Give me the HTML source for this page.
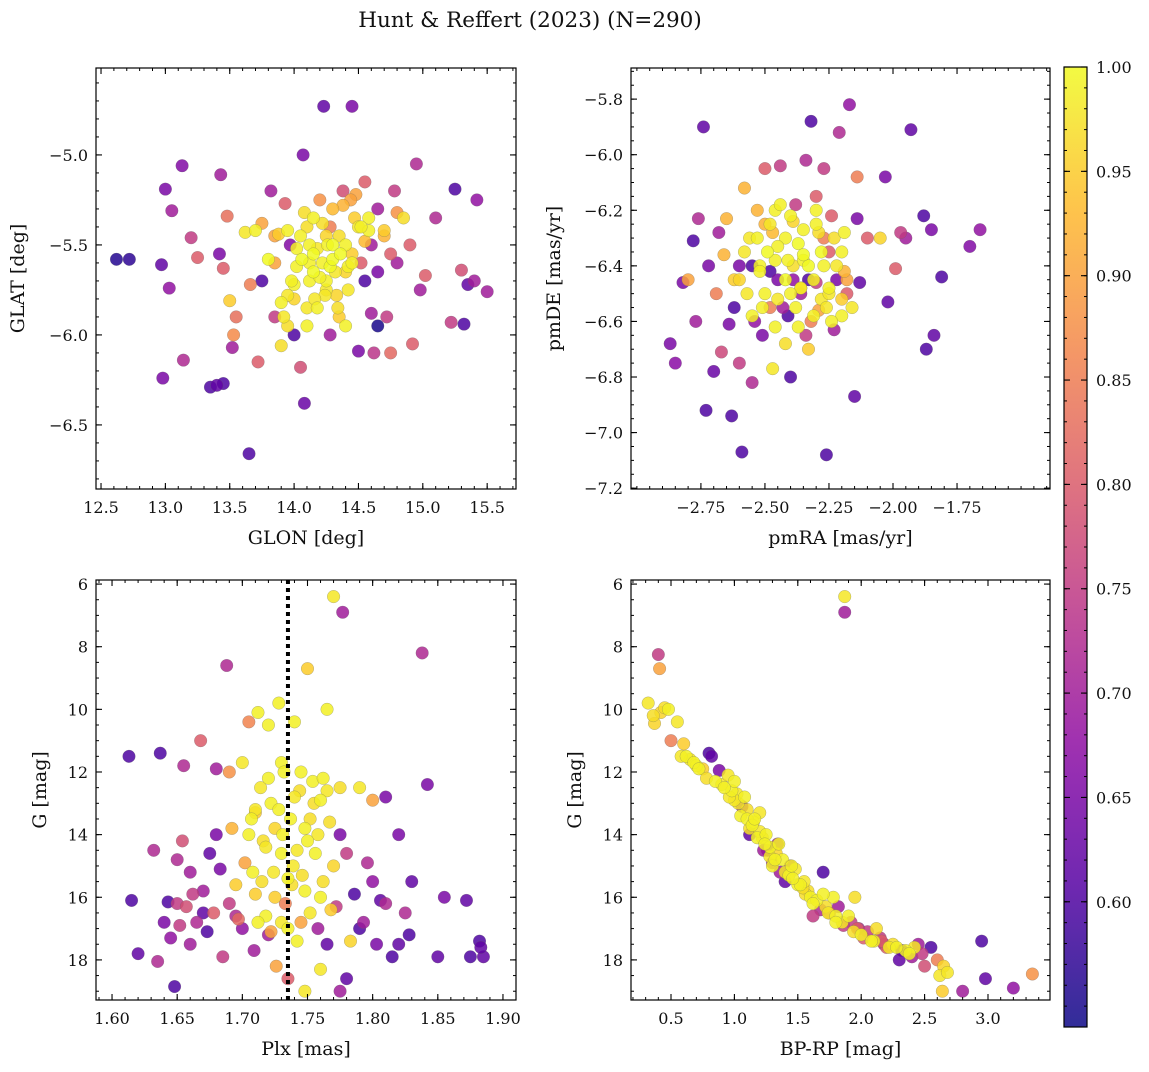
<!DOCTYPE html>
<html><head><meta charset="utf-8">
<style>
body{margin:0;background:#fff;}
svg text{font-family:"DejaVu Serif","Liberation Serif",serif;fill:#111;}
</style></head>
<body>
<svg id="chart" width="1149" height="1067" viewBox="0 0 1149 1067" xmlns="http://www.w3.org/2000/svg">
<text x="530" y="27" font-size="21.5" text-anchor="middle">Hunt &amp; Reffert (2023) (N=290)</text>
</svg>
<script>
// ---- data ----
const glon=[12.62,12.72,13.0,12.97,12.98,13.03,13.05,13.13,13.14,13.2,13.25,13.35,13.4,13.45,13.43,13.42,13.45,13.48,13.5,13.52,13.55,13.53,13.62,13.65,13.66,13.7,13.72,13.75,13.8,13.82,13.85,13.88,13.9,13.93,13.95,13.97,14.0,14.02,14.05,14.07,14.08,14.1,14.12,14.15,14.18,14.2,14.22,14.23,14.25,14.28,14.3,14.32,14.35,14.38,14.4,14.42,14.45,14.47,14.5,14.52,14.55,14.58,14.6,14.62,14.65,14.7,14.72,14.75,14.78,14.8,14.85,14.9,14.95,14.92,14.98,15.02,15.1,15.22,15.25,15.3,15.32,15.35,15.42,15.4,15.5,14.3,14.15,14.0,14.35,13.95,14.25,14.45,14.1,13.85,14.55,14.65,13.75,14.4,14.28,14.12];
const glat=[-5.58,-5.58,-5.19,-5.61,-6.24,-5.74,-5.31,-5.06,-6.14,-5.46,-5.57,-6.29,-6.28,-6.27,-5.11,-5.55,-5.63,-5.34,-5.81,-6.07,-5.9,-6.0,-5.43,-6.66,-5.72,-5.42,-6.15,-5.38,-5.58,-5.2,-5.9,-5.44,-6.06,-5.27,-5.78,-5.5,-6.0,-5.62,-6.18,-5.0,-6.38,-5.4,-5.7,-5.55,-5.85,-5.25,-5.6,-4.73,-5.45,-6.0,-5.3,-5.65,-5.9,-5.2,-5.5,-5.75,-4.73,-5.35,-6.09,-5.6,-5.15,-5.42,-5.88,-6.1,-5.3,-5.45,-5.9,-6.1,-5.2,-5.6,-5.35,-5.5,-5.05,-6.05,-5.75,-5.67,-5.35,-5.93,-5.19,-5.64,-5.94,-5.72,-5.25,-5.7,-5.76,-5.5,-5.35,-5.8,-5.45,-5.42,-5.75,-5.55,-5.95,-5.6,-5.7,-5.95,-5.7,-5.95,-5.62,-5.5];
const prob1=[0.56,0.57,0.65,0.62,0.65,0.68,0.7,0.66,0.72,0.75,0.8,0.6,0.62,0.6,0.7,0.65,0.8,0.83,0.95,0.7,0.83,0.87,0.98,0.6,0.85,0.99,0.8,0.9,1.0,0.7,0.75,0.95,0.97,0.8,0.98,0.66,0.6,0.99,0.78,0.65,0.63,0.97,0.99,1.0,0.99,0.88,0.99,0.62,0.96,0.7,0.93,0.98,0.95,0.78,0.99,0.98,0.65,0.95,0.65,0.8,0.8,0.99,0.7,0.74,0.7,0.92,0.75,0.82,0.75,0.7,0.97,0.8,0.72,0.8,0.7,0.8,0.72,0.75,0.6,0.78,0.6,0.62,0.68,0.7,0.7,1.0,0.99,0.96,0.97,0.99,0.98,0.95,0.99,0.9,0.6,0.55,0.6,0.99,1.0,0.99];
const glonX=[14.05,14.18,14.22,14.3,14.38,14.42,14.5,14.6,14.7,14.8,13.9,13.95,14.0,14.1,14.15,14.25,14.33,14.45,14.55,14.65,13.85,13.92,14.02,14.08,14.2,14.28,14.36,14.48,14.58,14.75,14.12,14.24,14.34,14.44,13.98,14.06,14.16,14.26,14.4,14.52];
const glatX=[-5.45,-5.52,-5.38,-5.58,-5.28,-5.62,-5.4,-5.5,-5.42,-5.32,-5.82,-5.95,-5.72,-5.85,-5.65,-5.7,-5.78,-5.6,-5.48,-5.65,-5.45,-5.9,-5.52,-5.32,-5.68,-5.4,-5.55,-5.22,-5.35,-5.55,-5.6,-5.78,-5.85,-5.25,-5.7,-5.58,-5.8,-5.5,-5.65,-5.4];
const prob1X=[0.99,0.98,0.97,1.0,0.92,0.99,0.98,0.7,0.95,0.88,0.99,0.97,0.99,0.98,1.0,0.99,0.96,0.99,0.93,0.65,0.9,0.98,0.99,0.97,0.99,0.85,1.0,0.9,0.99,0.8,0.99,0.98,0.97,0.9,0.99,1.0,0.98,0.99,0.96,0.99];
const pmra=[-2.87,-2.85,-2.82,-2.8,-2.78,-2.77,-2.76,-2.74,-2.73,-2.72,-2.7,-2.69,-2.68,-2.67,-2.66,-2.65,-2.64,-2.63,-2.62,-2.6,-2.59,-2.58,-2.57,-2.56,-2.55,-2.54,-2.53,-2.52,-2.51,-2.5,-2.49,-2.48,-2.47,-2.46,-2.45,-2.44,-2.42,-2.41,-2.4,-2.39,-2.38,-2.37,-2.36,-2.35,-2.34,-2.33,-2.32,-2.31,-2.3,-2.29,-2.28,-2.27,-2.26,-2.25,-2.24,-2.23,-2.22,-2.21,-2.2,-2.19,-2.18,-2.17,-2.16,-2.15,-2.14,-2.14,-2.13,-2.1,-2.05,-2.03,-2.02,-1.99,-1.97,-1.95,-1.93,-1.88,-1.87,-1.85,-1.84,-1.81,-1.7,-1.66,-2.35,-2.42,-2.28,-2.45,-2.3,-2.5,-2.38,-2.2,-2.55,-2.62,-2.6,-2.33,-2.25,-2.48,-2.4];
const pmde=[-6.68,-6.75,-6.46,-6.45,-6.31,-6.6,-6.23,-5.9,-6.92,-6.4,-6.78,-6.5,-6.28,-6.71,-6.36,-6.23,-6.61,-6.94,-6.45,-6.75,-7.07,-6.12,-6.5,-6.3,-6.82,-6.6,-6.2,-6.4,-6.65,-6.05,-6.35,-6.55,-6.77,-6.2,-6.45,-6.04,-6.3,-6.58,-6.8,-6.4,-6.18,-6.62,-6.5,-6.27,-6.02,-6.7,-5.88,-6.45,-6.15,-6.56,-6.35,-6.05,-7.08,-6.48,-6.22,-6.63,-6.4,-5.92,-6.52,-6.28,-6.45,-5.82,-6.55,-6.87,-6.23,-6.08,-6.46,-6.3,-6.3,-6.08,-6.53,-6.41,-6.28,-6.3,-5.91,-6.22,-6.7,-6.27,-6.65,-6.44,-6.33,-6.27,-6.38,-6.45,-6.52,-6.33,-6.25,-6.5,-6.55,-6.58,-6.4,-6.55,-6.4,-6.45,-6.35,-6.25,-6.5];
const prob2=[0.65,0.67,0.65,0.9,0.6,0.7,0.72,0.62,0.6,0.65,0.63,0.85,0.7,0.77,0.92,0.92,0.65,0.6,0.95,0.75,0.6,0.92,0.98,0.98,0.72,0.68,0.92,0.99,0.65,0.8,1.0,0.85,0.98,0.99,0.65,0.75,0.99,0.6,0.6,0.97,0.75,0.99,0.7,0.99,0.72,0.95,0.6,0.99,0.8,0.9,1.0,0.75,0.6,0.99,0.8,0.7,0.98,0.72,0.95,0.99,0.9,0.68,0.98,0.62,0.65,0.85,0.62,0.8,0.96,0.65,0.62,0.8,0.75,0.7,0.62,0.6,0.6,0.65,0.62,0.6,0.66,0.68,0.99,1.0,0.98,0.99,0.99,0.99,0.99,0.99,0.6,0.6,0.65,0.6,0.8,0.98,0.99];
const pmraX=[-2.58,-2.52,-2.47,-2.43,-2.4,-2.36,-2.32,-2.27,-2.23,-2.18,-2.55,-2.5,-2.45,-2.41,-2.37,-2.34,-2.3,-2.26,-2.22,-2.2,-2.6,-2.53,-2.46,-2.39,-2.33,-2.29,-2.24,-2.19,-2.44,-2.36,-2.48,-2.31,-2.42,-2.27,-2.35,-2.51,-2.25,-2.39,-2.46,-2.3];
const pmdeX=[-6.35,-6.42,-6.28,-6.55,-6.22,-6.48,-6.6,-6.4,-6.3,-6.5,-6.58,-6.25,-6.52,-6.38,-6.32,-6.65,-6.2,-6.55,-6.45,-6.35,-6.45,-6.3,-6.62,-6.45,-6.4,-6.28,-6.6,-6.42,-6.18,-6.48,-6.42,-6.58,-6.68,-6.3,-6.36,-6.55,-6.5,-6.24,-6.38,-6.46];
const prob2X=[0.98,0.99,0.93,0.7,0.99,0.98,0.85,0.99,0.97,0.8,0.99,0.92,0.98,0.99,1.0,0.75,0.99,0.98,0.65,0.99,0.96,0.99,0.99,0.68,1.0,0.97,0.99,0.92,0.99,0.98,0.6,0.99,0.97,0.85,1.0,0.99,0.98,0.96,0.99,0.75];
const plx=[1.613,1.615,1.62,1.632,1.635,1.637,1.64,1.643,1.645,1.648,1.65,1.652,1.654,1.655,1.657,1.66,1.662,1.665,1.668,1.67,1.673,1.675,1.678,1.68,1.683,1.685,1.688,1.69,1.692,1.695,1.697,1.7,1.702,1.705,1.707,1.709,1.71,1.712,1.714,1.716,1.718,1.72,1.722,1.724,1.726,1.728,1.73,1.731,1.733,1.735,1.737,1.739,1.74,1.742,1.744,1.746,1.748,1.75,1.752,1.754,1.756,1.758,1.76,1.762,1.765,1.767,1.77,1.772,1.775,1.777,1.78,1.78,1.783,1.786,1.79,1.793,1.796,1.8,1.803,1.806,1.81,1.815,1.82,1.825,1.828,1.83,1.838,1.842,1.85,1.855,1.872,1.875,1.882,1.885,1.883,1.775,1.748,1.72,1.695,1.735,1.76,1.71,1.745,1.765];
const gmag3=[11.5,16.1,17.8,14.5,18.05,11.4,16.8,16.15,17.3,18.85,14.8,16.9,14.2,11.8,16.3,17.5,15.9,16.8,11.0,15.8,17.1,14.6,16.5,11.9,15.1,17.9,8.6,12.0,13.8,15.6,16.7,11.7,14.9,10.4,13.5,17.7,15.9,10.1,12.5,14.2,16.6,10.5,13.0,15.2,18.2,9.8,11.7,14.0,16.2,18.6,13.5,15.0,10.4,17.4,12.6,15.3,13.8,8.7,16.5,12.3,14.6,17.0,12.9,15.5,10.0,13.6,6.4,16.3,12.5,6.9,14.6,18.6,17.4,15.9,12.5,16.8,14.9,12.9,17.5,16.1,12.8,17.9,14.0,16.5,17.2,15.5,8.2,12.4,17.9,16.0,16.1,17.9,17.4,17.9,17.6,19.0,19.0,17.2,16.6,17.0,18.3,13.3,12.0,17.5];
const prob3=[0.6,0.6,0.62,0.72,0.72,0.6,0.65,0.6,0.68,0.6,0.72,0.75,0.78,0.72,0.78,0.7,0.75,0.72,0.8,0.7,0.6,0.62,0.8,0.7,0.65,0.75,0.72,0.88,0.92,0.95,0.82,0.98,0.9,0.86,0.99,0.7,0.95,0.99,0.98,0.97,0.99,0.99,0.99,0.98,0.9,0.99,0.99,0.99,0.85,0.8,0.99,0.98,0.99,0.99,0.97,0.97,0.99,0.95,0.98,0.99,0.99,0.7,0.99,0.97,0.99,0.97,0.98,0.75,0.97,0.7,0.75,0.62,0.96,0.6,0.98,0.7,0.72,0.9,0.65,0.62,0.65,0.6,0.65,0.72,0.6,0.62,0.72,0.65,0.62,0.65,0.62,0.6,0.6,0.62,0.62,0.7,0.98,0.7,0.72,0.99,0.98,0.95,0.99,0.62];
const plxX=[1.705,1.71,1.715,1.72,1.725,1.73,1.74,1.745,1.75,1.755,1.76,1.765,1.77,1.708,1.718,1.728,1.738,1.748,1.758,1.768,1.712,1.722,1.732,1.742,1.752,1.762,1.66,1.67,1.68,1.69,1.79,1.8,1.81,1.82,1.65,1.7,1.775,1.735,1.73,1.725];
const gmag3X=[14.0,13.2,15.5,12.2,16.0,14.6,12.8,16.8,14.2,13.0,16.0,12.6,15.0,15.2,14.4,13.2,15.6,15.8,14.0,16.4,16.8,17.1,12.0,14.5,13.5,12.2,15.2,16.5,14.0,16.2,17.0,15.5,16.2,17.5,16.2,17.0,14.0,15.4,16.8,13.8];
const prob3X=[0.99,0.98,0.97,0.99,0.95,0.99,0.98,0.9,0.99,0.97,0.99,0.98,0.96,0.99,0.98,0.99,0.97,0.99,0.98,0.95,0.99,0.9,0.99,0.98,0.97,0.99,0.7,0.62,0.65,0.75,0.6,0.68,0.72,0.62,0.75,0.68,0.65,0.99,0.98,0.96];
const bprp=[0.32,0.36,0.37,0.4,0.41,0.42,0.45,0.48,0.5,0.55,0.6,0.62,0.65,0.7,0.75,0.8,0.82,0.85,0.88,0.9,0.95,0.98,1.0,1.03,1.05,1.08,1.1,1.12,1.15,1.18,1.2,1.23,1.25,1.28,1.3,1.33,1.36,1.38,1.4,1.43,1.45,1.5,1.55,1.6,1.62,1.65,1.7,1.72,1.75,1.78,1.8,1.82,1.85,1.87,1.87,1.9,1.95,1.97,2.0,2.05,2.1,2.15,2.2,2.25,2.3,2.35,2.4,2.45,2.5,2.55,2.6,2.62,2.64,2.65,2.68,2.8,2.95,2.98,3.2,3.35,1.35,1.48,1.1,1.58,1.3,1.92,2.12,1.2,1.02,2.28];
const gmag4=[9.8,10.2,10.45,8.25,8.7,10.1,9.95,10.0,11.0,10.4,11.1,11.5,11.6,11.8,11.9,11.4,11.5,12.3,11.95,12.4,12.1,12.6,12.3,13.0,13.4,12.8,13.2,14.0,13.6,14.1,13.3,14.5,14.0,14.4,15.0,14.6,15.2,14.8,15.5,15.3,15.0,15.6,15.5,16.0,16.6,16.1,15.2,16.3,16.5,16.0,16.6,16.3,16.8,6.4,6.9,16.6,16.0,17.0,17.2,17.1,17.4,17.3,17.6,17.5,18.0,17.7,17.9,17.5,18.2,17.6,18.0,18.5,19.0,18.2,18.4,19.0,17.4,18.6,18.9,18.45,14.3,15.1,13.5,15.8,14.9,16.8,17.0,13.9,12.7,17.6];
const prob4=[0.98,0.97,0.96,0.75,0.9,0.96,0.97,0.99,0.85,0.98,0.95,0.99,0.98,0.99,0.95,0.6,0.62,0.99,0.65,0.98,0.98,0.99,0.99,0.98,0.99,0.99,0.97,0.62,0.99,0.99,0.98,0.7,0.99,0.99,0.99,0.96,0.7,0.99,0.62,0.99,0.99,0.99,0.98,0.99,0.75,0.99,0.6,0.97,0.8,0.99,0.99,0.7,0.98,0.98,0.7,0.99,0.97,0.8,0.99,0.75,0.99,0.75,0.8,0.97,0.62,0.99,0.7,0.7,0.78,0.6,0.85,0.98,0.95,0.96,0.98,0.7,0.6,0.62,0.68,0.88,0.99,0.98,0.99,0.97,0.7,0.75,0.97,0.98,0.98,0.99];
const bprpX=[0.58,0.68,0.78,0.92,1.0,1.06,1.14,1.22,1.26,1.32,1.4,1.44,1.52,1.56,1.62,1.68,1.74,1.8,1.86,1.94,2.02,2.08,2.18,2.22,2.32,2.38,2.48,1.16,1.28,1.46,1.12,1.34,1.7,1.98,2.42,0.72,0.96,1.24,1.54,2.16];
const gmag4X=[11.5,11.7,12.2,12.5,12.9,13.1,13.7,14.1,14.5,14.8,15.2,15.0,15.6,15.9,16.2,16.4,16.5,16.8,16.9,17.1,17.3,17.4,17.5,17.6,17.7,17.8,17.8,13.5,14.7,15.4,13.8,14.3,15.9,17.0,17.6,11.9,12.8,14.3,15.7,17.4];
const prob4X=[0.98,0.99,0.97,0.99,0.98,0.65,0.99,0.97,0.62,0.99,0.98,0.7,0.99,0.97,0.99,0.72,0.98,0.99,0.75,0.97,0.8,0.99,0.7,0.98,0.62,0.99,0.75,0.99,0.98,0.99,0.97,0.7,0.99,0.72,0.98,0.99,0.98,0.99,0.97,0.8];
const cbTicks=[0.60,0.65,0.70,0.75,0.80,0.85,0.90,0.95,1.00];
const CMIN=0.54, CMAX=1.0;

const NS="http://www.w3.org/2000/svg";
const svg=document.getElementById('chart');
function mk(tag,attrs,parent){const e=document.createElementNS(NS,tag);for(const k in attrs)e.setAttribute(k,attrs[k]);(parent||svg).appendChild(e);return e;}
const plasma=[[13,8,135],[84,2,163],[139,10,165],[185,50,137],[219,92,104],[244,136,73],[254,188,43],[240,249,33]];
function cmap(v){let t=(v-CMIN)/(CMAX-CMIN);t=Math.max(0,Math.min(1,t));const s=t*(plasma.length-1);const i=Math.min(Math.floor(s),plasma.length-2);const f=s-i;const a=plasma[i],b=plasma[i+1];return `rgb(${Math.round(a[0]+(b[0]-a[0])*f)},${Math.round(a[1]+(b[1]-a[1])*f)},${Math.round(a[2]+(b[2]-a[2])*f)})`;}
function fmt(v,d){return (v<0?'\u2212':'')+Math.abs(v).toFixed(d);}

function panel(cfg){
  const g=mk('g',{});
  
  
  const {x0,x1,y0,y1}=cfg.box;
  const sx=v=>x0+(v-cfg.xr[0])/(cfg.xr[1]-cfg.xr[0])*(x1-x0);
  const sy=v=>y0+(v-cfg.yr[0])/(cfg.yr[1]-cfg.yr[0])*(y1-y0);
  const idx=cfg.xs.map((_,i)=>i).sort((a,b)=>cfg.cs[a]-cfg.cs[b]);
  idx.forEach(i=>{
    const c=mk('circle',{cx:sx(cfg.xs[i]),cy:sy(cfg.ys[i]),r:6.3,fill:cmap(cfg.cs[i]),'fill-opacity':0.85,stroke:'#666','stroke-width':0.4,'stroke-opacity':0.6},g);
    
    
  });
  if(cfg.vline!==undefined){
    const l=mk('line',{x1:sx(cfg.vline),x2:sx(cfg.vline),y1:y0,y2:y1,stroke:'#000','stroke-width':4,'stroke-dasharray':'4,4'},g);
    
    
  }
  const fr=mk('rect',{x:x0,y:y0,width:x1-x0,height:y1-y0,fill:'none',stroke:'#000','stroke-width':1.2},g);
  
  
  const lo=Math.min(...cfg.xr),hi=Math.max(...cfg.xr);
  for(let k=Math.ceil(lo/cfg.xminor-1e-6);k*cfg.xminor<=hi+1e-9;k++){const X=sx(k*cfg.xminor);mk('line',{x1:X,x2:X,y1:y1,y2:y1-3,stroke:'#000','stroke-width':1},g);mk('line',{x1:X,x2:X,y1:y0,y2:y0+3,stroke:'#000','stroke-width':1},g);}
  const ylo=Math.min(...cfg.yr),yhi=Math.max(...cfg.yr);
  for(let k=Math.ceil(ylo/cfg.yminor-1e-6);k*cfg.yminor<=yhi+1e-9;k++){const Y=sy(k*cfg.yminor);mk('line',{x1:x0,x2:x0+3,y1:Y,y2:Y,stroke:'#000','stroke-width':1},g);mk('line',{x1:x1,x2:x1-3,y1:Y,y2:Y,stroke:'#000','stroke-width':1},g);}
  cfg.xt.forEach(v=>{const X=sx(v);mk('line',{x1:X,x2:X,y1:y1,y2:y1-6,stroke:'#000','stroke-width':1.1},g);mk('line',{x1:X,x2:X,y1:y0,y2:y0+6,stroke:'#000','stroke-width':1.1},g);
    const t=mk('text',{x:X,y:y1+24,'font-size':16,'text-anchor':'middle'},g);t.textContent=fmt(v,cfg.xd);
    });
  cfg.yt.forEach(v=>{const Y=sy(v);mk('line',{x1:x0,x2:x0+6,y1:Y,y2:Y,stroke:'#000','stroke-width':1.1},g);mk('line',{x1:x1,x2:x1-6,y1:Y,y2:Y,stroke:'#000','stroke-width':1.1},g);
    const t=mk('text',{x:x0-8,y:Y+6,'font-size':16,'text-anchor':'end'},g);t.textContent=fmt(v,cfg.yd);
    });
  const xl=mk('text',{x:(x0+x1)/2,y:y1+55,'font-size':19,'text-anchor':'middle'},g);xl.textContent=cfg.xlabel;
  
  const yx=cfg.ylx, yc=(y0+y1)/2;
  const yl=mk('text',{x:yx,y:yc,'font-size':19,'text-anchor':'middle',transform:`rotate(-90 ${yx} ${yc})`},g);yl.textContent=cfg.ylabel;
  
}
function rng(a,b,s){const r=[];for(let v=a;v<=b+1e-9;v+=s)r.push(Math.round(v*1000)/1000);return r;}

panel({name:'sky-position-panel',box:{x0:96,x1:516,y0:68,y1:489},xr:[12.461,15.724],yr:[-4.517,-6.856],xs:glon.concat(glonX),ys:glat.concat(glatX),cs:prob1.concat(prob1X),
  xt:rng(12.5,15.5,0.5),yt:rng(-6.5,-5.0,0.5),xd:1,yd:1,xminor:0.1,yminor:0.1,xlabel:'GLON [deg]',ylabel:'GLAT [deg]',ylx:24});
panel({name:'proper-motion-panel',box:{x0:631,x1:1050,y0:68,y1:489},xr:[-3.023,-1.387],yr:[-5.688,-7.203],xs:pmra.concat(pmraX),ys:pmde.concat(pmdeX),cs:prob2.concat(prob2X),
  xt:rng(-2.75,-1.75,0.25),yt:rng(-7.2,-5.8,0.2),xd:2,yd:1,xminor:0.05,yminor:0.05,xlabel:'pmRA [mas/yr]',ylabel:'pmDE [mas/yr]',ylx:560});
panel({name:'parallax-magnitude-panel',box:{x0:96,x1:516,y0:580,y1:1000},xr:[1.5877,1.910],yr:[5.87,19.28],xs:plx.concat(plxX),ys:gmag3.concat(gmag3X),cs:prob3.concat(prob3X),vline:1.735,
  xt:rng(1.60,1.90,0.05),yt:rng(6,18,2),xd:2,yd:0,xminor:0.01,yminor:0.5,xlabel:'Plx [mas]',ylabel:'G [mag]',ylx:46});
panel({name:'color-magnitude-panel',box:{x0:631,x1:1050,y0:580,y1:1000},xr:[0.1845,3.489],yr:[5.87,19.28],xs:bprp.concat(bprpX),ys:gmag4.concat(gmag4X),cs:prob4.concat(prob4X),
  xt:rng(0.5,3.0,0.5),yt:rng(6,18,2),xd:1,yd:0,xminor:0.1,yminor:0.5,xlabel:'BP-RP [mag]',ylabel:'G [mag]',ylx:581});

(function(){
  const g=mk('g',{});
  
  
  const x0=1064,x1=1087,y0=67,y1=1027;
  const defs=mk('defs',{},g);
  const lg=mk('linearGradient',{id:'cbg',x1:0,y1:1,x2:0,y2:0},defs);
  for(let i=0;i<=20;i++){const v=CMIN+(CMAX-CMIN)*i/20;mk('stop',{offset:i/20,'stop-color':cmap(v),'stop-opacity':0.85},lg);}
  mk('rect',{x:x0,y:y0,width:x1-x0,height:y1-y0,fill:'url(#cbg)',stroke:'#000','stroke-width':1.2},g);
  const sy=v=>y1-(v-CMIN)/(CMAX-CMIN)*(y1-y0);
  for(let k=Math.ceil(CMIN*100);k<=100;k++){const Y=sy(k/100);mk('line',{x1:x1,x2:x1-3,y1:Y,y2:Y,stroke:'#000','stroke-width':1},g);mk('line',{x1:x0,x2:x0+3,y1:Y,y2:Y,stroke:'#000','stroke-width':1},g);}
  cbTicks.forEach(v=>{const Y=sy(v);mk('line',{x1:x1,x2:x1-6,y1:Y,y2:Y,stroke:'#000','stroke-width':1.1},g);mk('line',{x1:x0,x2:x0+6,y1:Y,y2:Y,stroke:'#000','stroke-width':1.1},g);
    const t=mk('text',{x:x1+9,y:Y+6,'font-size':16},g);t.textContent=v.toFixed(2);
    });
})();
</script>
</body></html>
